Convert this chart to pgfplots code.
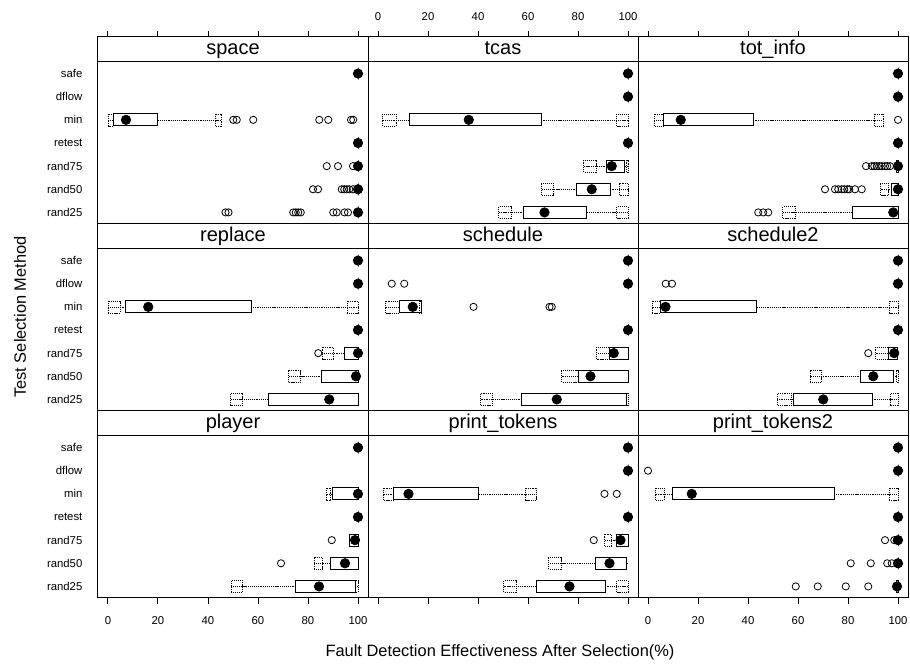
\documentclass[border=0pt]{standalone}
\usepackage{fontspec}
\setmainfont{Liberation Sans}
\usepackage{pgfplots}
\pgfplotsset{compat=1.18}
\usepgfplotslibrary{statistics}

\pgfplotsset{
 bxs/.style={black, line width=0.6pt, mark=o, mark size=2.7pt,
   mark options={solid,line width=0.6pt},
   boxplot/box extend=0.52, boxplot/whisker extend=0,
   boxplot/every whisker/.style={line width=0.5pt, dash pattern=on 0.9pt off 0.7pt},
   boxplot/draw/median/.code={\fill[black] (boxplot box cs:\pgfplotsboxplotvalue{median},0.5) circle[radius=3.5pt];}},
 ums/.style={black, line width=0.4pt, dash pattern=on 0.9pt off 0.7pt,
   boxplot/box extend=0.52, boxplot/whisker extend=0,
   boxplot/draw/median/.code={}},
 panel/.style={
   width=202.5pt, height=140.25pt, scale only axis, anchor=south west,
   xmin=-4, xmax=104, ymin=0.5, ymax=8.5802, clip=false,
   axis line style={line width=0.75pt},
   xtick={0,20,40,60,80,100}, ytick={1,2,3,4,5,6,7},
   tick align=outside, major tick length=4.2pt,
   xtick style={line width=0.75pt, black}, ytick style={draw=none},
   extra y ticks={7.5}, extra y tick labels={},
   extra y tick style={grid=major, major grid style={black, line width=0.75pt}},
   ticklabel style={font=\fontsize{8.5}{10}\selectfont},
   /pgf/number format/assume math mode=true,
   every axis title shift=0pt,
   title style={at={(0.5,0.904)}, anchor=base, font=\fontsize{15}{18}\selectfont, inner sep=0pt},
 },
 r1/.style={xtick pos=right, xticklabel style={yshift=4.5pt}},
 r2/.style={xtick=\empty},
 r3/.style={xtick pos=left, xticklabel style={yshift=-6pt}},
 c1/.style={yticklabels={rand25,rand50,rand75,retest,min,dflow,safe}, yticklabel style={xshift=-4pt}},
 c23/.style={yticklabels={}},
 nolab/.style={xticklabels={}},
}

% box: position, lower whisker, lower quartile, median, upper quartile, upper whisker, outliers
\newcommand{\bx}[7]{\addplot[boxplot prepared={draw position=#1, lower whisker=#2, lower quartile=#3, median=#4, upper quartile=#5, upper whisker=#6}, bxs] coordinates {#7};}
% dotted umbrella at whisker end: position, from, to
\newcommand{\um}[3]{\addplot[boxplot prepared={draw position=#1, lower whisker=#2, lower quartile=#2, median=#2, upper quartile=#3, upper whisker=#3}, ums] coordinates {};}
\newcommand{\hd}[1]{\bx{#1}{100}{100}{100}{100}{100}{}}

\begin{document}
\begin{tikzpicture}
\useasboundingbox (0,0) rectangle (682.5pt,500.25pt);

% ---------- row 1 ----------
\begin{axis}[panel, r1, c1, nolab, at={(73.5pt,332.25pt)}, title={space}]
\hd{7}
\um{5}{0}{2.1}\um{5}{42.8}{45.2}
\bx{5}{0}{2.1}{7.2}{19.9}{45.2}{(0,50.1) (0,51.5) (0,58.1) (0,84.5) (0,88.1) (0,97.2) (0,98.1)}
\hd{4}
\bx{3}{100}{100}{100}{100}{100}{(0,87.5) (0,92) (0,98)}
\bx{2}{100}{100}{100}{100}{100}{(0,82) (0,84) (0,93.5) (0,94.5) (0,95.5) (0,96.5) (0,98)}
\bx{1}{100}{100}{100}{100}{100}{(0,47) (0,48.2) (0,74.1) (0,75.1) (0,76.1) (0,77.1) (0,90.1) (0,91.5) (0,94.6) (0,96)}
\end{axis}

\begin{axis}[panel, r1, c23, at={(276pt,332.25pt)}, title={tcas}]
\hd{7}\hd{6}\hd{4}
\um{5}{1.9}{7.3}\um{5}{95.5}{100}\bx{5}{1.9}{12.6}{36.3}{65.3}{100}{}
\um{3}{82.3}{87.3}\um{3}{99.3}{100}\bx{3}{82.3}{91.5}{93.5}{98.6}{100}{}
\um{2}{65.5}{70.3}\um{2}{96.6}{100}\bx{2}{65.5}{79.5}{85.5}{92.9}{100}{}
\um{1}{48.3}{53.3}\um{1}{95.5}{100}\bx{1}{48.3}{58.3}{66.6}{83.5}{100}{}
\end{axis}

\begin{axis}[panel, r1, c23, nolab, at={(478.5pt,332.25pt)}, title={tot\_info}]
\hd{7}\hd{6}\hd{4}
\um{5}{2.5}{6.1}\um{5}{90.5}{94.1}\bx{5}{2.5}{6.1}{13.1}{42.1}{94.1}{(0,100)}
\bx{3}{99.5}{99.5}{100}{100}{100}{(0,87.2) (0,89.5) (0,90.5) (0,91.5) (0,92.5) (0,93.5) (0,94.8) (0,95.7) (0,96.8)}
\um{2}{93.1}{96.1}\bx{2}{93.1}{97.5}{100}{100}{100}{(0,70.8) (0,74.8) (0,76.1) (0,77.5) (0,78.5) (0,79.7) (0,80.5) (0,82.8) (0,85.5)}
\um{1}{53.9}{58.8}\bx{1}{53.9}{81.7}{98.1}{100}{100}{(0,44.1) (0,46.1) (0,48.1)}
\end{axis}

% ---------- row 2 ----------
\begin{axis}[panel, r2, c1, at={(73.5pt,192pt)}, title={replace}]
\hd{7}\hd{6}\hd{4}
\um{5}{0}{4.8}\um{5}{95.7}{100}\bx{5}{0}{7.1}{16.1}{57.2}{100}{}
\um{3}{85.7}{90.1}\bx{3}{85.7}{94.4}{100}{100}{100}{(0,84.1)}
\um{2}{72.1}{77.1}\bx{2}{72.1}{85.5}{99.2}{100}{100}{}
\um{1}{48.8}{53.9}\bx{1}{48.8}{64.1}{88.5}{100}{100}{}
\end{axis}

\begin{axis}[panel, r2, c23, at={(276pt,192pt)}, title={schedule}]
\hd{7}\bx{6}{100}{100}{100}{100}{100}{(0,5.5) (0,10.5)}\hd{4}
\um{5}{3}{8.6}\um{5}{16.5}{17.3}\bx{5}{3}{8.6}{13.9}{17.3}{17.3}{(0,38.2) (0,68.6) (0,69.5)}
\um{3}{87.5}{92.6}\bx{3}{87.5}{92.6}{94.3}{100}{100}{}
\um{2}{73.5}{80.2}\bx{2}{73.5}{80.2}{85}{100}{100}{}
\um{1}{41}{45.9}\um{1}{99.3}{100}\bx{1}{41}{57.5}{71.5}{99.3}{100}{}
\end{axis}

\begin{axis}[panel, r2, c23, at={(478.5pt,192pt)}, title={schedule2}]
\hd{7}\bx{6}{100}{100}{100}{100}{100}{(0,7.1) (0,9.6)}\hd{4}
\um{5}{1.7}{4.8}\um{5}{96.4}{100}\bx{5}{1.7}{4.8}{7}{43.5}{100}{}
\um{3}{91.1}{96.1}\bx{3}{91.1}{96.1}{98.5}{99.6}{100}{(0,88.1)}
\um{2}{64.8}{69.5}\um{2}{99.3}{100}\bx{2}{64.8}{85.1}{90.1}{98.1}{100}{}
\um{1}{51.7}{57.5}\um{1}{96.8}{100}\bx{1}{51.7}{58.1}{70.1}{89.7}{100}{}
\end{axis}

% ---------- row 3 ----------
\begin{axis}[panel, r3, c1, at={(73.5pt,51.75pt)}, title={player}]
\hd{7}\hd{4}
\um{5}{87.2}{89.1}\bx{5}{87.2}{89.7}{100}{100}{100}{}
\bx{3}{96.5}{96.5}{98.8}{100}{100}{(0,89.5)}
\um{2}{82.4}{85.9}\bx{2}{82.4}{88.8}{94.8}{100}{100}{(0,69.2)}
\um{1}{49.2}{53.9}\um{1}{98.8}{100}\bx{1}{49.2}{75.1}{84.4}{98.8}{100}{}
\end{axis}

\begin{axis}[panel, r3, c23, nolab, at={(276pt,51.75pt)}, title={print\_tokens}]
\hd{7}\hd{6}\hd{4}
\um{5}{2.2}{6.3}\um{5}{58.9}{63.5}\bx{5}{2.2}{6.3}{12.2}{40.3}{63.5}{(0,90.6) (0,95.5)}
\um{3}{90.6}{93.3}\bx{3}{90.6}{95.5}{97}{100}{100}{(0,86.3)}
\um{2}{68.3}{73.3}\bx{2}{68.3}{87}{92.6}{99.5}{100}{}
\um{1}{50.3}{55.3}\um{1}{95.5}{100}\bx{1}{50.3}{63.3}{76.6}{90.9}{100}{}
\end{axis}

\begin{axis}[panel, r3, c23, at={(478.5pt,51.75pt)}, title={print\_tokens2}]
\hd{7}\bx{6}{100}{100}{100}{100}{100}{(0,0)}\hd{4}
\um{5}{2.8}{6.5}\um{5}{96.5}{100}\bx{5}{2.8}{9.7}{17.5}{74.4}{100}{}
\bx{3}{100}{100}{100}{100}{100}{(0,94.8) (0,98.5) (0,99.5)}
\bx{2}{100}{100}{100}{100}{100}{(0,81.1) (0,89.1) (0,95.7) (0,97.5)}
\bx{1}{99.2}{99.2}{99.6}{100}{100}{(0,59.1) (0,67.9) (0,79.1) (0,88.1)}
\end{axis}

\node[font=\fontsize{12.3}{14}\selectfont] at (375pt,11.25pt) {Fault Detection Effectiveness After Selection(\%)};
\node[rotate=90, font=\fontsize{12.3}{14}\selectfont] at (15pt,262.5pt) {Test Selection Method};
\end{tikzpicture}
\end{document}
